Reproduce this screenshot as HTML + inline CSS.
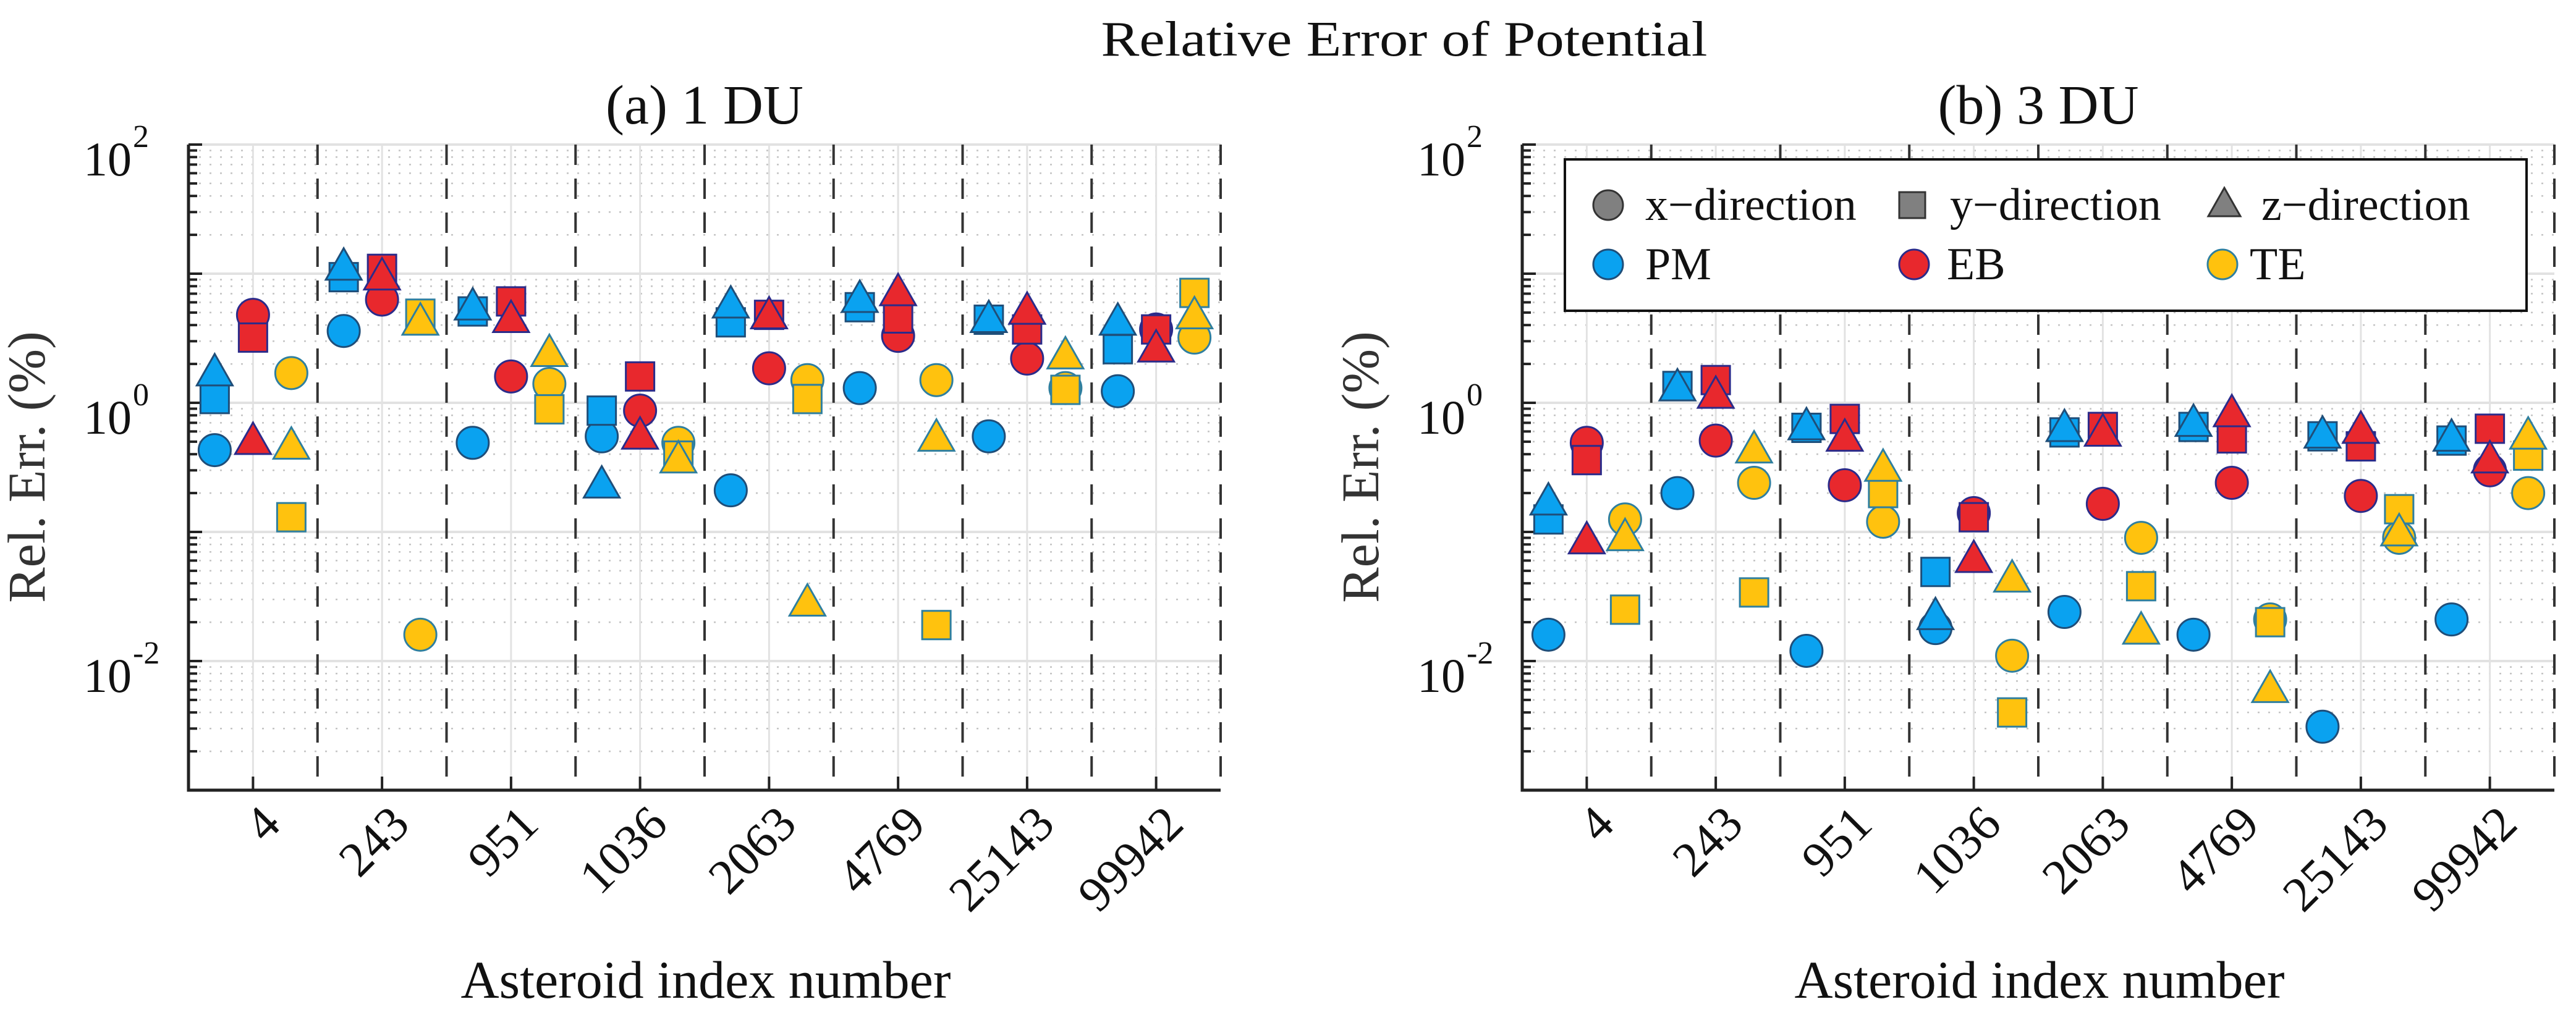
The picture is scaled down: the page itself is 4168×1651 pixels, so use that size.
<!DOCTYPE html>
<html><head><meta charset="utf-8"><style>
html,body{margin:0;padding:0;background:#fff;}
svg{display:block;font-family:"Liberation Serif",serif;}
</style></head><body>
<svg id="chart" width="4168" height="1651" viewBox="0 0 4168 1651" xmlns="http://www.w3.org/2000/svg">
<text x="2272" y="90" font-size="80" text-anchor="middle" textLength="981" lengthAdjust="spacingAndGlyphs" fill="#111">Relative Error of Potential</text>
</svg>
<script>
const categories = ["4","243","951","1036","2063","4769","25143","99942"];
// panel (a) 1 DU
const a_PM_x = [0.43,3.6,0.49,0.55,0.21,1.3,0.55,1.23];
const a_PM_y = [1.07,9.4,5.1,0.87,4.2,5.5,4.4,2.6];
const a_PM_z = [1.7,11.2,5.5,0.23,5.7,6.3,4.4,4.2];
const a_EB_x = [4.8,6.3,1.6,0.87,1.85,3.3,2.2,3.7];
const a_EB_y = [3.2,10.9,6.1,1.6,4.8,4.5,3.7,3.7];
const a_EB_z = [0.5,9.4,4.4,0.55,4.7,7.1,5.1,2.6];
const a_TE_x = [1.7,0.016,1.4,0.49,1.5,1.5,1.3,3.2];
const a_TE_y = [0.13,4.9,0.89,0.39,1.07,0.019,1.26,7.1];
const a_TE_z = [0.46,4.2,2.4,0.36,0.028,0.53,2.3,4.7];
// panel (b) 3 DU
const b_PM_x = [0.016,0.2,0.012,0.018,0.024,0.016,0.0031,0.021];
const b_PM_y = [0.125,1.35,0.64,0.049,0.59,0.65,0.55,0.51];
const b_PM_z = [0.17,1.3,0.65,0.022,0.63,0.69,0.56,0.53];
const b_EB_x = [0.49,0.51,0.23,0.14,0.165,0.24,0.19,0.3];
const b_EB_y = [0.36,1.5,0.75,0.13,0.65,0.53,0.46,0.63];
const b_EB_z = [0.085,1.14,0.53,0.061,0.58,0.82,0.61,0.36];
const b_TE_x = [0.125,0.24,0.12,0.011,0.09,0.021,0.09,0.2];
const b_TE_y = [0.025,0.034,0.2,0.004,0.038,0.02,0.15,0.39];
const b_TE_z = [0.09,0.43,0.31,0.043,0.017,0.006,0.098,0.55];
const yTickExp = [-2,0,2];

const NS="http://www.w3.org/2000/svg";
const svg=document.getElementById('chart');
function mk(tag,attrs,parent){const e=document.createElementNS(NS,tag);for(const k in attrs)e.setAttribute(k,attrs[k]);(parent||svg).appendChild(e);return e;}

const COL={PM:["#0aa2f0","#1f4e79"],EB:["#e8282d","#2b2b8a"],TE:["#ffc20e","#2f7f9f"]};
const OFF={PM:-62,EB:0,TE:62};
const TOP=234,BOT=1279,YMIN=-3,YMAX=2,W=1670;

function panel(x0,label,data,pname){
  const g=mk('g',{});
  
  
  const xs=i=>x0+W/categories.length*(i+0.5);
  const ys=v=>BOT-(Math.log10(v)-YMIN)/(YMAX-YMIN)*(BOT-TOP);
  for(let e=YMIN;e<YMAX;e++){for(let m=2;m<=9;m++){const y=ys(m*Math.pow(10,e));
    const l=mk('line',{x1:x0,x2:x0+W,y1:y,y2:y,stroke:"#c4c4c4","stroke-width":2.5,"stroke-dasharray":"3,14"},g);
    
    mk('line',{x1:x0,x2:x0+14,y1:y,y2:y,stroke:"#222","stroke-width":4},g);}}
  for(let e=YMIN;e<=YMAX;e++){const y=ys(Math.pow(10,e));
    const l=mk('line',{x1:x0,x2:x0+W,y1:y,y2:y,stroke:"#e2e2e2","stroke-width":4},g);
    
    mk('line',{x1:x0,x2:x0+22,y1:y,y2:y,stroke:"#222","stroke-width":4},g);}
  categories.forEach((c,i)=>{const x=xs(i);
    mk('line',{x1:x,x2:x,y1:TOP,y2:BOT,stroke:"#e2e2e2","stroke-width":3},g);
    mk('line',{x1:x,x2:x,y1:BOT,y2:BOT-22,stroke:"#222","stroke-width":4},g);
    const xb=x0+W/categories.length*(i+1);
    const d=mk('line',{x1:xb,x2:xb,y1:TOP,y2:BOT,stroke:"#333","stroke-width":4,"stroke-dasharray":"33,22"},g);
    
    const t=mk('text',{transform:`translate(${x+48},${1338}) rotate(-45)`,"font-size":80,"text-anchor":"end",fill:"#111"},g);
    t.textContent=c;
    
  });
  const ax=mk('path',{d:`M${x0},${TOP} L${x0},${BOT} L${x0+W},${BOT}`,fill:"none",stroke:"#222","stroke-width":5},g);
  
  yTickExp.forEach(e=>{const y=ys(Math.pow(10,e));
    const t=mk('text',{x:x0-92,y:y+50,"font-size":78,"text-anchor":"end",fill:"#111"},g);t.textContent="10";
    
    const s=mk('text',{x:x0-90,y:y+4,"font-size":52,fill:"#111"},g);s.textContent=String(e);
    });
  const tt=mk('text',{x:x0+W/2,y:200,"font-size":90,"text-anchor":"middle",fill:"#111"},g);tt.textContent=label;
  
  const yl=mk('text',{transform:`translate(${x0-233},756) rotate(-90)`,"font-size":86,"text-anchor":"middle",fill:"#333"},g);yl.textContent="Rel. Err. (%)";
  
  const xl=mk('text',{x:x0+W/2+2,y:1615,"font-size":86,"text-anchor":"middle",fill:"#111"},g);xl.textContent="Asteroid index number";
  
  ["PM","EB","TE"].forEach(m=>{
    const [fc,ec]=COL[m];
    data[m].x.forEach((v,i)=>{const cx=xs(i)+OFF[m],cy=ys(v);
      const c=mk('circle',{cx:cx,cy:cy,r:26,fill:fc,stroke:ec,"stroke-width":3},g);
      });
    data[m].y.forEach((v,i)=>{const cx=xs(i)+OFF[m],cy=ys(v);
      const r=mk('rect',{x:cx-23,y:cy-23,width:46,height:46,fill:fc,stroke:ec,"stroke-width":3},g);
      });
    data[m].z.forEach((v,i)=>{const cx=xs(i)+OFF[m],cy=ys(v);
      const p=mk('polygon',{points:`${cx},${cy-31} ${cx+29},${cy+20} ${cx-29},${cy+20}`,fill:fc,stroke:ec,"stroke-width":3},g);
      });
  });
}
panel(305,"(a) 1 DU",{PM:{x:a_PM_x,y:a_PM_y,z:a_PM_z},EB:{x:a_EB_x,y:a_EB_y,z:a_EB_z},TE:{x:a_TE_x,y:a_TE_y,z:a_TE_z}},'panel-a');
panel(2463,"(b) 3 DU",{PM:{x:b_PM_x,y:b_PM_y,z:b_PM_z},EB:{x:b_EB_x,y:b_EB_y,z:b_EB_z},TE:{x:b_TE_x,y:b_TE_y,z:b_TE_z}},'panel-b');

const lg=mk('g',{});


mk('rect',{x:2532,y:258,width:1556,height:245,fill:"#fff",stroke:"#111","stroke-width":4},lg);
const ent=[
 ["circle",2602,332,"#808080","#333","x\u2212direction",2662,"legend-entry-x-direction"],
 ["square",3094,332,"#808080","#333","y\u2212direction",3155,"legend-entry-y-direction"],
 ["tri",3599,332,"#808080","#333","z\u2212direction",3659,"legend-entry-z-direction"],
 ["circle",2602,428,COL.PM[0],COL.PM[1],"PM",2662,"legend-entry-pm"],
 ["circle",3097,428,COL.EB[0],COL.EB[1],"EB",3150,"legend-entry-eb"],
 ["circle",3596,428,COL.TE[0],COL.TE[1],"TE",3640,"legend-entry-te"]];
ent.forEach(e=>{
  const [sh,x,y,fc,ec,txt,tx,nm]=e;
  const gg=mk('g',{},lg);
  
  
  if(sh==="circle")mk('circle',{cx:x,cy:y,r:24,fill:fc,stroke:ec,"stroke-width":3},gg);
  else if(sh==="square")mk('rect',{x:x-21,y:y-21,width:42,height:42,fill:fc,stroke:ec,"stroke-width":3},gg);
  else mk('polygon',{points:`${x},${y-28} ${x+26},${y+18} ${x-26},${y+18}`,fill:fc,stroke:ec,"stroke-width":3},gg);
  const t=mk('text',{x:tx,y:y+24,"font-size":74,fill:"#111"},gg);t.textContent=txt;
});
</script>
</body></html>
